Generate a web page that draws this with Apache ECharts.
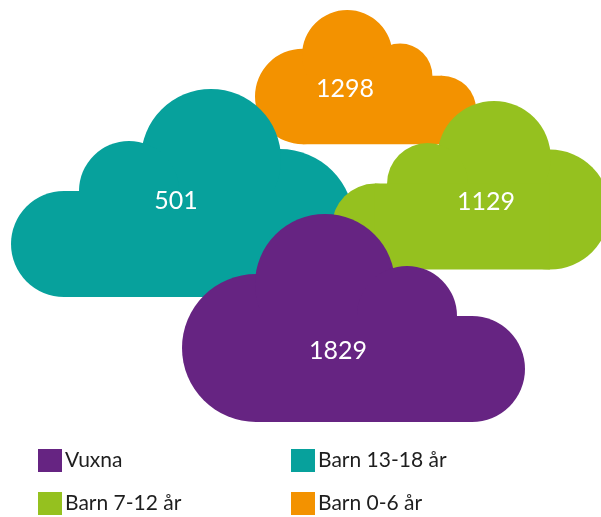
<!DOCTYPE html>
<html>
<head>
<meta charset="utf-8">
<script src="https://cdn.jsdelivr.net/npm/echarts@6/dist/echarts.min.js"></script>
<style>
html, body { margin: 0; padding: 0; background: #fff; }
#main { width: 601px; height: 517px; }
</style>
</head>
<body>
<div id="main"></div>
<script>
// data
var categories = ['Barn 0-6 år', 'Barn 13-18 år', 'Barn 7-12 år', 'Vuxna'];
var values = [1298, 501, 1129, 1829];
var colors = ['#F39200', '#07A19C', '#95C11F', '#662482'];

// where each cloud sits (pixels): top-left corner, scale, mirrored, label centre
var cloudLayout = [
    {x: 255, y: 10, s: 0.645, flip: false, lx: 345, ly: 89},
    {x: 11, y: 89, s: 1, flip: true, lx: 176, ly: 201},
    {x: 332, y: 101, s: 0.81, flip: true, lx: 486, ly: 202},
    {x: 182, y: 214, s: 1, flip: false, lx: 338, ly: 351}
];

// base cloud is 343 x 208: lobes as [cx, cy, r], flat bottom block
var CW = 343, CH = 208;
var lobes = [[74, 134, 74], [143, 70, 70], [225, 102, 50], [290, 155, 53]];

var main = echarts.init(document.getElementById('main'));

function makeRender(i) {
    return function (params, api) {
        var L = cloudLayout[i];
        var o = api.coord([api.value(0), api.value(1)]);
        var k = L.s;
        var fx = function (u) { return L.flip ? CW - u : u; };
        var children = lobes.map(function (c) {
            return {
                type: 'circle',
                shape: {cx: o[0] + fx(c[0]) * k, cy: o[1] + c[1] * k, r: c[2] * k},
                style: {fill: colors[i]}
            };
        });
        var xa = Math.min(fx(74), fx(290)), xb = Math.max(fx(74), fx(290));
        children.push({
            type: 'rect',
            shape: {x: o[0] + xa * k, y: o[1] + 102 * k, width: (xb - xa) * k, height: (CH - 102) * k},
            style: {fill: colors[i]}
        });
        var t = api.coord([L.lx, L.ly]);
        children.push({
            type: 'text',
            style: {
                text: String(api.value(2)),
                x: t[0], y: t[1],
                fill: '#ffffff',
                fontSize: 25,
                fontFamily: 'Lato',
                align: 'center',
                verticalAlign: 'middle'
            }
        });
        return {type: 'group', children: children};
    };
}

var series = categories.map(function (name, i) {
    return {
        name: name,
        type: 'custom',
        coordinateSystem: 'cartesian2d',
        renderItem: makeRender(i),
        itemStyle: {color: colors[i]},
        data: [[cloudLayout[i].x, cloudLayout[i].y, values[i]]],
        z: i + 1
    };
});

function legendAt(name, left, top) {
    return {
        data: [name],
        left: left,
        top: top,
        icon: 'rect',
        itemWidth: 24,
        itemHeight: 23,
        selectedMode: false,
        textStyle: {fontSize: 21, fontFamily: 'Lato', color: '#1e1e1e', padding: [7, 0, 0, -2]}
    };
}

var option = {
    animation: false,
    grid: {left: 0, right: 0, top: 0, bottom: 0},
    xAxis: {type: 'value', min: 0, max: 601, show: false},
    yAxis: {type: 'value', min: 0, max: 517, inverse: true, show: false},
    legend: [
        legendAt('Vuxna', 33, 444),
        legendAt('Barn 13-18 år', 286, 444),
        legendAt('Barn 7-12 år', 33, 487),
        legendAt('Barn 0-6 år', 286, 487)
    ],
    series: series
};

main.setOption(option);
</script>
</body>
</html>
